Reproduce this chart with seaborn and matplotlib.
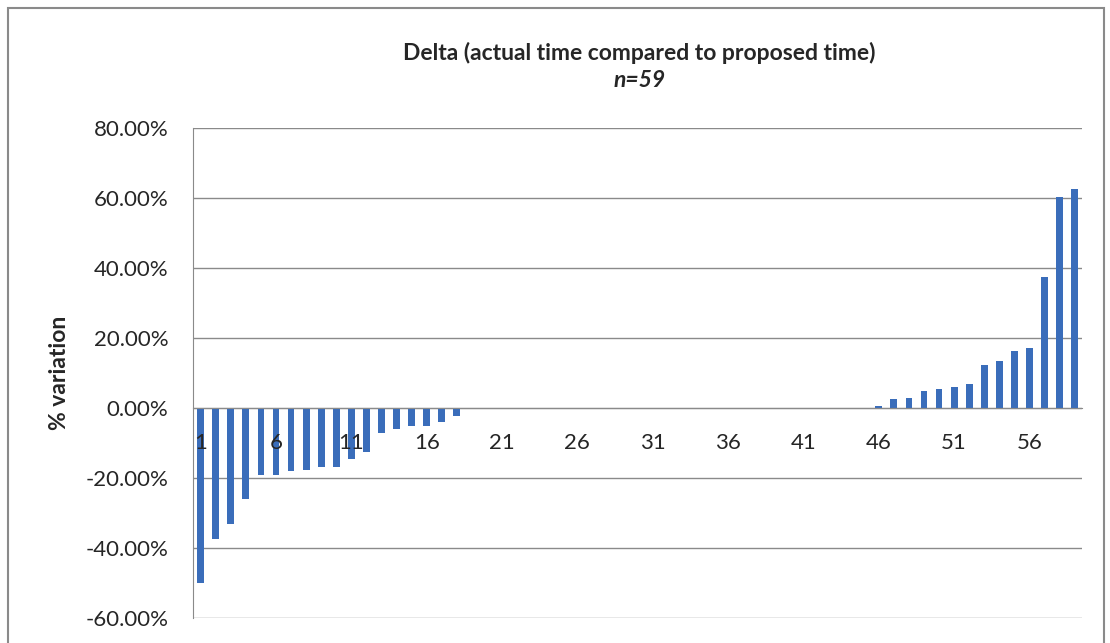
import numpy as np
import pandas as pd
import matplotlib
matplotlib.use("Agg")
import matplotlib.pyplot as plt
from matplotlib.ticker import PercentFormatter, FixedLocator
from matplotlib.patches import Rectangle
import seaborn as sns

# 데이터: 59건, 실제 시간 대비 제안 시간 편차(%)
cases = [str(i) for i in range(1, 60)]
negative_part = [-50.1, -37.5, -33.2, -26.1, -19.1, -19.2, -17.9, -17.8, -16.8, -16.8,
                 -14.6, -12.5, -7.2, -6.0, -5.3, -5.1, -3.9, -2.2]
zero_part = [0.0] * 27
positive_part = [0.6, 2.6, 2.9, 4.7, 5.5, 5.9, 6.8, 12.4, 13.5, 16.4, 17.1, 37.3, 60.2, 62.5]
delta = negative_part + zero_part + positive_part
tick_labels = [str(i) for i in range(1, 60, 5)]

df = pd.DataFrame({"case": cases, "delta": delta})

sns.set_style("white")
plt.rcParams['font.family'] = ['Lato', 'DejaVu Sans']
plt.rcParams['axes.unicode_minus'] = False

fig = plt.figure(figsize=(11.1, 6.43), dpi=100)
ax = fig.add_axes([0.174, 0.039, 0.801, 0.762])

sns.barplot(data=df, x="case", y="delta", order=cases, color="#3A6DBA",
            width=0.45, saturation=1, linewidth=0, ax=ax)

ax.set_ylim(-60, 80)
ax.set_xlim(-0.5, len(cases) - 0.5)
ax.yaxis.set_major_locator(FixedLocator(np.arange(-60, 81, 20)))
ax.yaxis.set_major_formatter(PercentFormatter(decimals=2))
ax.grid(axis="y", color="#8a8a8a", linewidth=1)
ax.set_axisbelow(True)

for side in ["top", "right"]:
    ax.spines[side].set_visible(False)
ax.spines["left"].set_color("#8a8a8a")
ax.spines["bottom"].set_color("#8a8a8a")
ax.spines["bottom"].set_position(("data", 0))
ax.spines["bottom"].set_zorder(4)

ax.set_xticks([cases.index(t) for t in tick_labels])
ax.set_xticklabels(tick_labels, fontsize=16)
ax.set_xticks(np.arange(-0.5, len(cases), 1), minor=True)
ax.tick_params(axis="x", which="major", length=0, pad=18)
ax.tick_params(axis="x", which="minor", length=5, color="#8a8a8a", direction="out")
ax.tick_params(axis="y", length=6, color="#8a8a8a", labelsize=16, pad=12)
# 눈금 글자가 막대 위에 보이도록
ax.xaxis.set_zorder(3)

ax.set_xlabel("")
ax.set_ylabel("% variation", fontsize=16.5, fontweight="bold", labelpad=11)

fig.text(0.576, 0.918, "Delta (actual time compared to proposed time)",
         ha="center", va="center", fontsize=16.5, fontweight="bold")
fig.text(0.576, 0.875, "n=59", ha="center", va="center", fontsize=16.5,
         fontweight="bold", fontstyle="italic")

fig.patches.append(Rectangle((8 / 1110, -0.01), 1096 / 1110, 1.0 - 8 / 643 + 0.01,
                             transform=fig.transFigure, fill=False,
                             edgecolor="#8a8a8a", linewidth=1.5))

fig.savefig("out.png", dpi=100)
